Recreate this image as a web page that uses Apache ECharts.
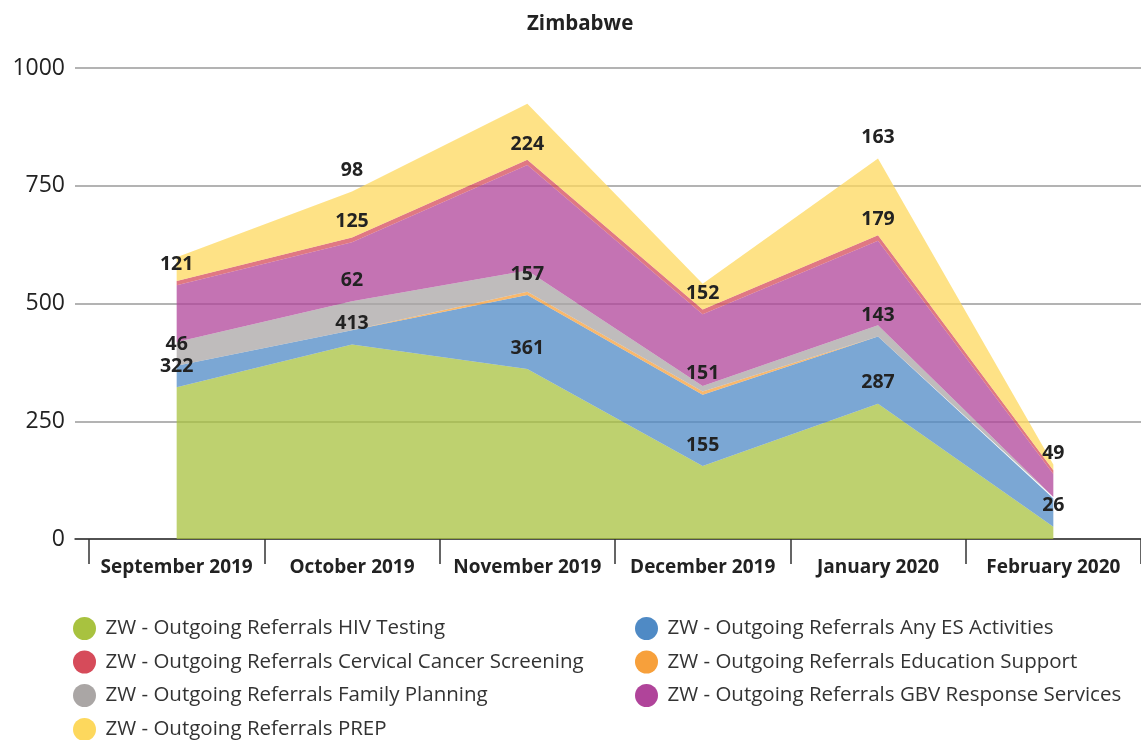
<!DOCTYPE html>
<html>
<head>
<meta charset="utf-8">
<title>Zimbabwe</title>
<script src="https://cdn.jsdelivr.net/npm/echarts@6/dist/echarts.min.js"></script>
<style>
  html, body { margin: 0; padding: 0; background: #fff; }
  #chart { width: 1141px; height: 740px; }
</style>
</head>
<body>
<div id="chart"></div>
<script>
  // categories + values (stack order, bottom to top)
  const months = ['September 2019', 'October 2019', 'November 2019', 'December 2019', 'January 2020', 'February 2020']
  const yTicks = [0, 250, 500, 750, 1000]

  const hivTesting = [322, 413, 361, 155, 287, 26]
  const anyEs = [46, 30, 157, 151, 143, 60]
  const educationSupport = [0, 0, 7, 7, 0, 0]
  const familyPlanning = [50, 62, 45, 12, 24, 3]
  const gbvResponse = [121, 125, 224, 152, 179, 49]
  const cervicalCancer = [9, 10, 11, 10, 12, 8]
  const prep = [50, 98, 119, 55, 163, 12]

  // which points carry a value label in the reference
  const hivShown = [1, 1, 1, 1, 1, 1]
  const anyEsShown = [1, 0, 1, 1, 1, 0]
  const eduShown = [0, 0, 0, 0, 0, 0]
  const fpShown = [0, 1, 0, 0, 0, 0]
  const gbvShown = [1, 1, 1, 1, 1, 1]
  const cervShown = [0, 0, 0, 0, 0, 0]
  const prepShown = [0, 1, 0, 0, 1, 0]

  const names = {
    hiv: 'ZW - Outgoing Referrals HIV Testing',
    es: 'ZW - Outgoing Referrals Any ES Activities',
    cerv: 'ZW - Outgoing Referrals Cervical Cancer Screening',
    edu: 'ZW - Outgoing Referrals Education Support',
    fp: 'ZW - Outgoing Referrals Family Planning',
    gbv: 'ZW - Outgoing Referrals GBV Response Services',
    prep: 'ZW - Outgoing Referrals PREP'
  }

  const FONT = '"Open Sans", "Noto Sans", sans-serif'

  function makeData(values, shown) {
    return values.map(function (v, i) {
      return { value: v, label: { show: !!shown[i] } }
    })
  }

  function areaSeries(name, color, values, shown) {
    return {
      name: name,
      type: 'line',
      stack: 'total',
      xAxisIndex: 1,
      yAxisIndex: 1,
      symbol: 'circle',
      symbolSize: 0,
      color: color,
      lineStyle: { opacity: 0 },
      areaStyle: { color: color, opacity: 0.75 },
      label: {
        show: false,
        position: 'top',
        distance: 11,
        fontFamily: FONT,
        fontWeight: 'bold',
        fontSize: 19.5,
        color: '#222'
      },
      emphasis: { disabled: true },
      data: makeData(values, shown)
    }
  }

  function legendBlock(left, top, items) {
    return {
      orient: 'vertical',
      left: left,
      top: top,
      padding: 0,
      itemWidth: 32,
      itemHeight: 23,
      itemGap: 10.5,
      icon: 'circle',
      textStyle: { fontFamily: FONT, fontSize: 20.5, color: '#333' },
      data: items
    }
  }

  var myChart = echarts.init(document.getElementById('chart'))
  var option = {
    animation: false,
    title: {
      text: 'Zimbabwe',
      left: 522,
      top: 9,
      textStyle: { fontFamily: FONT, fontWeight: 'bold', fontSize: 20.5, color: '#222' }
    },
    legend: [
      legendBlock(73, 617, [names.hiv, names.cerv, names.fp]),
      legendBlock(73, 718, [names.prep]),
      legendBlock(635, 617, [names.es, names.edu, names.gbv])
    ],
    grid: [
      { left: 75, right: 0, top: 68, bottom: 201 },   // gridlines + y labels
      { left: 89, right: -2, top: 68, bottom: 201 }   // areas + month axis
    ],
    xAxis: [
      {
        gridIndex: 0,
        type: 'value',
        min: 0,
        max: 1,
        axisLine: { show: true, lineStyle: { color: '#333', width: 1.5 } },
        axisTick: { show: false },
        axisLabel: { show: false },
        splitLine: { show: false }
      },
      {
        gridIndex: 1,
        type: 'category',
        data: months,
        boundaryGap: true,
        axisLine: { show: false },
        axisTick: { show: true, interval: 0, length: 25, lineStyle: { color: '#333', width: 1.5 } },
        axisLabel: {
          interval: 0,
          margin: 19,
          fontFamily: FONT,
          fontWeight: 'bold',
          fontSize: 19,
          color: '#222'
        }
      }
    ],
    yAxis: [
      {
        gridIndex: 0,
        type: 'value',
        min: yTicks[0],
        max: yTicks[yTicks.length - 1],
        interval: yTicks[1] - yTicks[0],
        axisLine: { show: false },
        axisTick: { show: false },
        axisLabel: {
          margin: 10,
          fontFamily: FONT,
          fontSize: 23,
          color: '#222',
          formatter: function (v) { return String(v) }
        },
        splitLine: { lineStyle: { color: '#9a9a9a', width: 1.5 } }
      },
      {
        gridIndex: 1,
        type: 'value',
        min: yTicks[0],
        max: yTicks[yTicks.length - 1],
        interval: yTicks[1] - yTicks[0],
        show: false,
        splitLine: { show: false }
      }
    ],
    series: [
      areaSeries(names.hiv, '#a8c23f', hivTesting, hivShown),
      areaSeries(names.es, '#4f8ac5', anyEs, anyEsShown),
      areaSeries(names.edu, '#f7a03b', educationSupport, eduShown),
      areaSeries(names.fp, '#aaa6a5', familyPlanning, fpShown),
      areaSeries(names.gbv, '#b0449a', gbvResponse, gbvShown),
      areaSeries(names.cerv, '#d64b5a', cervicalCancer, cervShown),
      areaSeries(names.prep, '#fdd85d', prep, prepShown)
    ]
  }
  myChart.setOption(option)
</script>
</body>
</html>
